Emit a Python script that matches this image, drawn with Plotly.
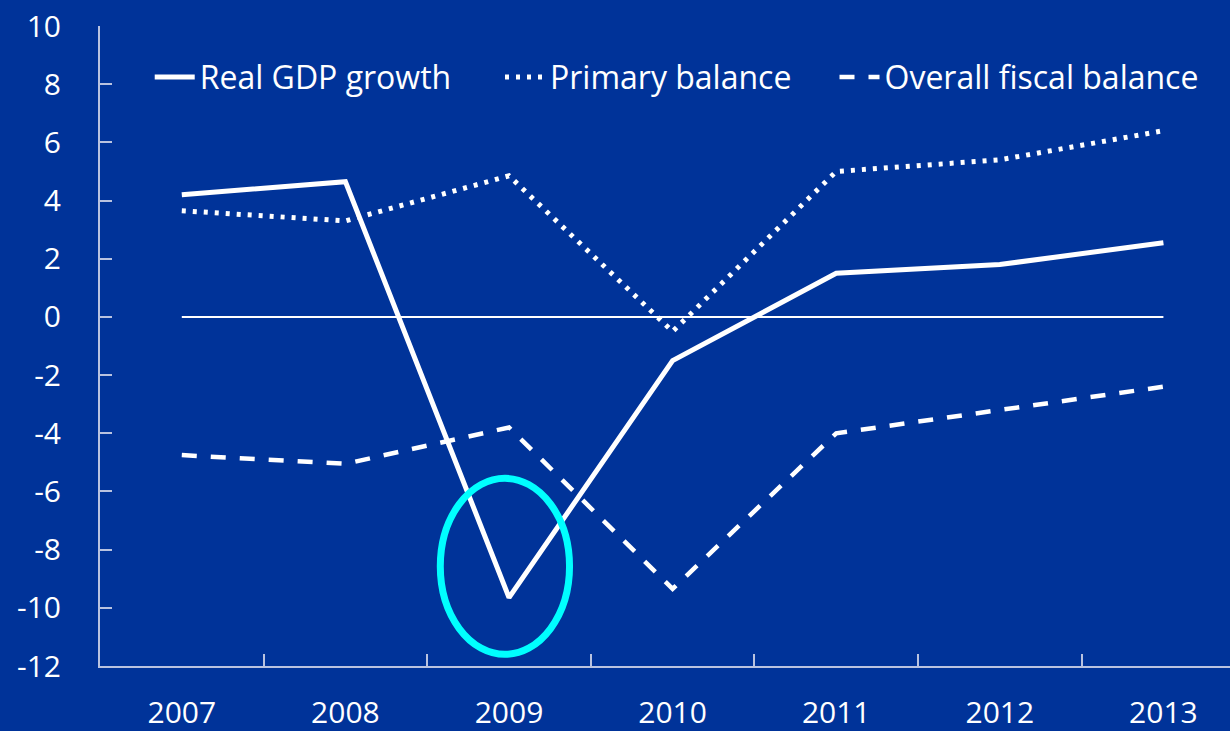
import plotly.graph_objects as go

# Annual series, percent
years = ["2007", "2008", "2009", "2010", "2011", "2012", "2013"]
real_gdp_growth = [4.2, 4.65, -9.65, -1.5, 1.5, 1.8, 2.55]
primary_balance = [3.65, 3.3, 4.85, -0.5, 5.0, 5.4, 6.4]
overall_fiscal_balance = [-4.75, -5.05, -3.8, -9.35, -4.0, -3.2, -2.4]
y_ticks = [10, 8, 6, 4, 2, 0, -2, -4, -6, -8, -10, -12]
y_tick_labels = [str(v) for v in y_ticks]

BG = "#003399"
AXIS = "#b9c3e0"
FONT = "Open Sans"

fig = go.Figure()

# Reference line at zero spanning the years
fig.add_trace(go.Scatter(
    x=years, y=[0] * len(years), mode="lines",
    line=dict(color="white", width=2), showlegend=False, hoverinfo="skip"))

fig.add_trace(go.Scatter(
    x=years, y=real_gdp_growth, mode="lines", name="Real GDP growth",
    line=dict(color="white", width=5), legend="legend"))
fig.add_trace(go.Scatter(
    x=years, y=primary_balance, mode="lines", name="Primary balance",
    line=dict(color="white", width=5, dash="4px,7px"), legend="legend2"))
fig.add_trace(go.Scatter(
    x=years, y=overall_fiscal_balance, mode="lines", name="Overall fiscal balance",
    line=dict(color="white", width=4.5, dash="15px,14px"), legend="legend3"))

# Highlight ring around the 2009 growth trough
trough_i = real_gdp_growth.index(min(real_gdp_growth))
trough_v = real_gdp_growth[trough_i]
fig.add_shape(
    type="circle", xref="x", yref="y",
    x0=trough_i - 0.42, x1=trough_i + 0.37,
    y0=trough_v - 1.95, y1=trough_v + 4.1,
    line=dict(color="#00ffff", width=7), fillcolor="rgba(0,0,0,0)")


def legend_box(x):
    return dict(
        orientation="h", x=x, xanchor="left", y=0.92, yanchor="middle",
        bgcolor="rgba(0,0,0,0)", font=dict(size=32, color="white"),
        itemwidth=40)


fig.update_layout(
    width=1230, height=731,
    paper_bgcolor=BG, plot_bgcolor=BG,
    margin=dict(l=100, r=0, t=26, b=65, autoexpand=False),
    font=dict(family=FONT, color="white", size=30),
    showlegend=True,
    legend=legend_box(0.044),
    legend2=legend_box(0.354),
    legend3=legend_box(0.65),
)

fig.update_xaxes(
    type="category", range=[-0.5, 6.407], automargin=False,
    showline=True, linecolor=AXIS, linewidth=2,
    ticks="inside", tickson="boundaries", ticklen=12, tickwidth=2, tickcolor=AXIS,
    showgrid=False, zeroline=False,
    tickfont=dict(size=30, color="white"), ticklabelstandoff=19)

fig.update_yaxes(
    range=[-12, 10], tickvals=y_ticks, ticktext=y_tick_labels, automargin=False,
    showline=True, linecolor=AXIS, linewidth=2,
    ticks="inside", ticklen=12, tickwidth=2, tickcolor=AXIS,
    showgrid=False, zeroline=False,
    tickfont=dict(size=30, color="white"), ticklabelstandoff=31)

fig.write_html("out.html")
